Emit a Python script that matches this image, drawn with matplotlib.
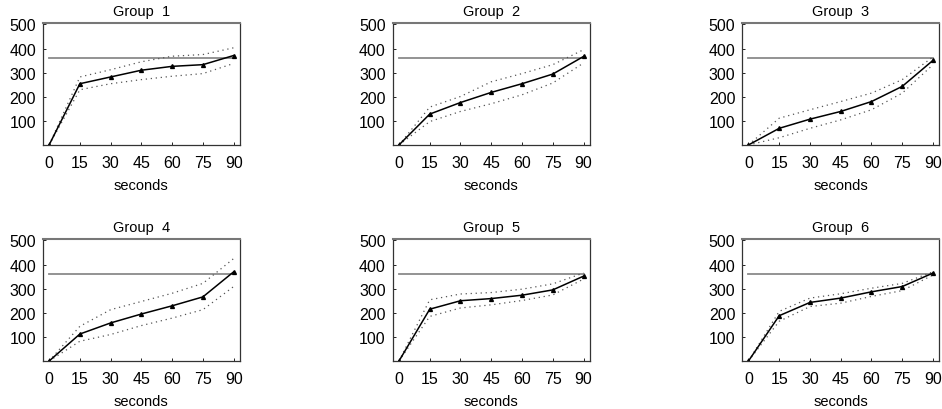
import matplotlib.pyplot as plt
import numpy as np

plt.rcParams['font.family'] = ['Liberation Sans', 'DejaVu Sans']

seconds = [0, 15, 30, 45, 60, 75, 90]
target = 360
titles = ['Group  1', 'Group  2', 'Group  3', 'Group  4', 'Group  5', 'Group  6']

# mean, upper and lower bounds per group
g1_mean = [0, 254, 282, 310, 326, 333, 371]
g1_up = [0, 282, 312, 345, 368, 375, 403]
g1_low = [0, 229, 254, 271, 285, 296, 338]

g2_mean = [0, 128, 176, 218, 254, 294, 367]
g2_up = [0, 157, 201, 262, 296, 333, 395]
g2_low = [0, 97, 139, 171, 208, 257, 340]

g3_mean = [0, 69, 107, 139, 180, 243, 351]
g3_up = [0, 111, 146, 180, 215, 271, 365]
g3_low = [0, 30, 69, 104, 146, 215, 333]

g4_mean = [0, 112, 158, 195, 229, 266, 370]
g4_up = [0, 144, 213, 247, 281, 322, 425]
g4_low = [0, 82, 110, 147, 178, 213, 309]

g5_mean = [0, 215, 250, 259, 273, 295, 352]
g5_up = [0, 254, 278, 284, 298, 320, 365]
g5_low = [0, 185, 220, 233, 251, 274, 340]

g6_mean = [0, 188, 243, 261, 287, 309, 365]
g6_up = [0, 206, 261, 279, 302, 322, 370]
g6_low = [0, 165, 226, 240, 268, 292, 357]

means = [g1_mean, g2_mean, g3_mean, g4_mean, g5_mean, g6_mean]
ups = [g1_up, g2_up, g3_up, g4_up, g5_up, g6_up]
lows = [g1_low, g2_low, g3_low, g4_low, g5_low, g6_low]

fig = plt.figure(figsize=(9.42, 4.10), dpi=100)
lefts = [0.0456, 0.417, 0.788]
bottoms = [0.644, 0.117]

for i in range(6):
    ax = fig.add_axes([lefts[i % 3], bottoms[i // 3], 0.209, 0.297])
    ax.plot([seconds[0], seconds[-1]], [target, target], color='#8a8a8a', lw=1.3)
    ax.plot(seconds, ups[i], color='#555555', ls=(0, (1, 3)), lw=0.9)
    ax.plot(seconds, lows[i], color='#555555', ls=(0, (1, 3)), lw=0.9)
    ax.plot(seconds, means[i], color='black', lw=1.1, marker='^', ms=2.8)
    ax.set_xlim(-3, 93)
    ax.set_ylim(0, 505)
    ax.set_xticks(seconds)
    ax.set_yticks([100, 200, 300, 400, 500])
    ax.tick_params(direction='in', length=2, width=0.6, labelsize=11.5,
                   top=False, right=False)
    ax.tick_params(axis='x', pad=7)
    ax.tick_params(axis='y', pad=5)
    ax.set_title(titles[i], fontsize=10.5, pad=6)
    ax.set_xlabel('seconds', fontsize=10.5, labelpad=6)
    ax.spines['top'].set_color('#777777')
    ax.spines['top'].set_linewidth(1.5)
    for s in ['left', 'bottom', 'right']:
        ax.spines[s].set_color('#333333')
        ax.spines[s].set_linewidth(0.9)

fig.savefig('out.png', dpi=100)
